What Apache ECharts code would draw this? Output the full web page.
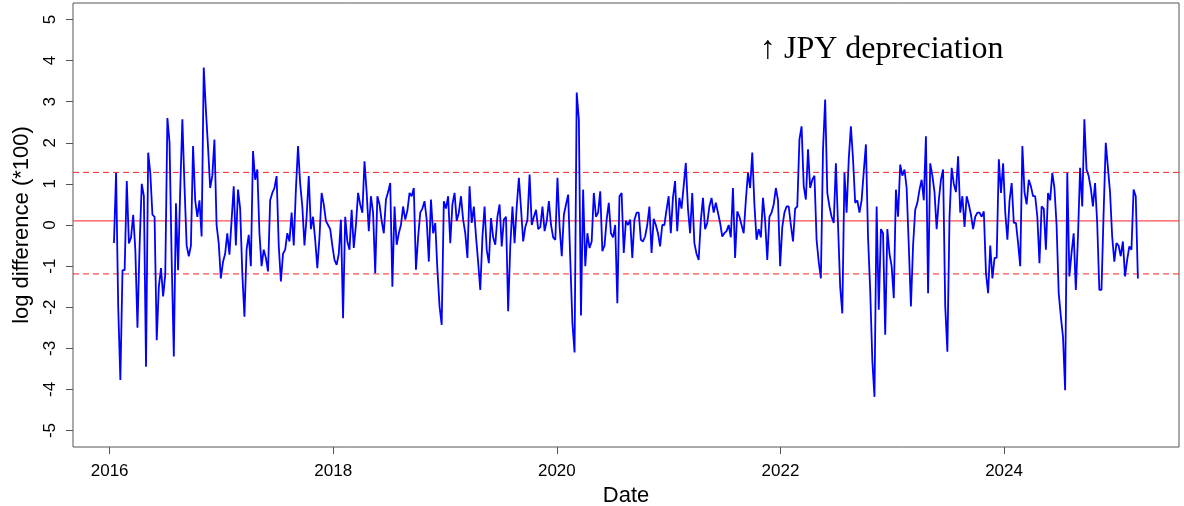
<!DOCTYPE html>
<html><head><meta charset="utf-8">
<script src="https://cdn.jsdelivr.net/npm/echarts@6/dist/echarts.min.js"></script>
<style>html,body{margin:0;padding:0;background:#fff}#c{width:1184px;height:506px}</style>
</head><body><div id="c"></div>
<script>
// ---- data ----
const startDate = '2016-01-15';   // first weekly observation
const logDiff = [
  -0.44, 1.27, -2.0, -3.77, -1.1, -1.1, 1.07, -0.45, -0.3, 0.25, -0.6, -2.5, -0.5, 1.0, 0.7, -3.45, 1.76, 1.27, 0.25, 0.2,
  -2.8, -1.5, -1.05, -1.74, -1.2, 2.6, 2.0, -0.85, -3.2, 0.53, -1.1, 0.86, 2.57, 0.94, -0.5, -0.76, -0.5, 1.92, 0.6, 0.2,
  0.6, -0.28, 3.83, 2.8, 1.9, 0.9, 1.2, 2.08, 0.0, -0.44, -1.3, -0.9, -0.7, -0.2, -0.72, 0.1, 0.94, -0.5, 0.86, 0.4,
  -1.17, -2.23, -0.6, -0.24, -1.0, 1.8, 1.1, 1.35, -0.2, -1.0, -0.6, -0.8, -1.13, 0.6, 0.78, 0.9, 1.19, -0.5, -1.37, -0.7,
  -0.6, -0.2, -0.4,
  0.3, -0.5, 0.86, 1.92, 1.0, 0.45, -0.5, 0.2, 1.19, -0.1, 0.2, -0.36, -1.05, -0.3, 0.78, 0.5, 0.1, 0.0, -0.1, -0.5,
  -0.85, -0.97, -0.7, 0.13, -2.27, 0.2, -0.4, -0.6, 0.37, -0.56, 0.0, 0.78, 0.5, 0.3, 1.55, 0.8, -0.15, 0.7, 0.3, -1.17,
  0.7, 0.5, 0.1, -0.2,
  0.62, 0.8, 1.02, -1.5, 0.45, -0.48, -0.2, 0.0, 0.45, 0.13, 0.35, 0.78, 0.7, 0.9, -1.09, -0.3, 0.3, 0.4, 0.58, 0.13,
  -0.89, 0.62, -0.2, 0.05, -1.09, -1.98, -2.43, 0.58, 0.4, 0.7, -0.44, 0.5, 0.78, 0.1, 0.3, 0.7, 0.13, -0.2, -0.8, 0.94,
  0.05, 0.45, -0.28, -0.9,
  -1.58, -0.3, 0.45, -0.6, -0.93, 0.17, -0.3, -0.48, 0.2, 0.5, -0.52, 0.13, 0.2, -2.1, -0.5, 0.45, -0.44, 0.45, 1.15, 0.4,
  -0.4, -0.05, 0.13, 1.23, 0.0, 0.2, 0.37, -0.1, -0.05, 0.45, -0.15, 0.1, 0.58, 0.0, -0.3, -0.36, 1.15, -0.05, -0.76, 0.25,
  0.5, 0.74, -0.85, -2.4,
  -3.1, 3.22, 2.57, -2.2, 0.86, -1.0, -0.2, -0.56, -0.4, 0.78, 0.2, 0.3, 0.82, -0.64, -0.5, 0.13, 0.54, -0.2, -0.3, 0.0,
  -1.9, 0.7, 0.78, -0.68, 0.1, 0.0, 0.13, -0.8, 0.13, 0.3, 0.3, -0.36, -0.4, -0.28, 0.0, 0.45, -0.68, 0.15, 0.0, -0.2,
  -0.52, 0.0, 0.0,
  0.37, 0.7, -0.2, 0.66, 1.07, -0.15, 0.66, 0.4, 0.94, 1.51, 0.4, -0.2, 0.78, -0.44, -0.7, -0.85, 0.1, 0.66, -0.1, 0.05,
  0.45, 0.66, 0.3, 0.54, 0.3, 0.05, -0.28, -0.2, -0.15, 0.0, -0.3, 0.9, -0.8, 0.33, 0.2, 0.0, -0.2, 0.6, 1.27, 0.9,
  1.76, 0.5, -0.36, -0.1,
  -0.3, 0.66, 0.1, -0.85, 0.2, 0.3, 0.5, 0.9, 0.6, -1.0, -0.05, 0.3, 0.45, 0.45, 0.0, -0.4, 0.4, 0.45, 2.08, 2.4,
  0.94, 0.62, 1.84, 0.9, 1.1, 1.2, -0.36, -0.9, -1.3, 1.84, 3.05, 0.78, 0.45, 0.2, 0.05, 1.5, 0.0, -1.5, -2.15, 1.27,
  0.3, 1.6, 2.4, 1.6,
  0.54, 0.6, 0.3, 0.6, 1.3, 1.96, -0.3, -1.58, -3.3, -4.18, 0.45, -2.06, -0.1, -0.2, -2.67, -0.1, -0.7, -1.0, -1.78, 0.86,
  0.2, 1.47, 1.2, 1.35, 0.9, -0.5, -1.98, -0.5, 0.37, 0.54, 0.86, 1.1, 0.6, 2.16, -1.66, 1.5, 1.2, 0.8, -0.1, 0.6,
  1.1, 1.35, -1.98, -3.08,
  0.2, 1.39, 1.0, 0.8, 1.67, 0.3, 0.7, -0.05, 0.7, 0.5, 0.25, -0.1, 0.2, 0.3, 0.3, 0.2, 0.33, -1.17, -1.66, -0.5,
  -1.3, -0.8, -0.8, 1.6, 0.78, 1.5, 0.3, -0.36, 0.6, 1.02, 0.05, 0.05, -0.44, -1.0, 1.92, 0.8, 0.5, 1.1, 0.94, 0.7,
  0.7, 0.2, -0.93,
  0.45, 0.4, -0.6, 0.78, 0.6, 1.27, 0.9, 0.0, -1.66, -2.23, -2.72, -4.02, 1.27, -1.25, -0.68, -0.2, -1.58, -0.3, 1.39, 0.45,
  2.57, 1.35, 1.19, 0.9, 0.45, 1.02, 0.05, -1.58, -1.58, 0.3, 2.0, 1.4, 0.8, -0.28, -0.89, -0.44, -0.5, -0.76, -0.4, -1.25,
  -0.85, -0.52, -0.6, 0.86, 0.7, -1.3
];
const xTickYears = [2016, 2018, 2020, 2022, 2024];
const yTicks = [-5, -4, -3, -2, -1, 0, 1, 2, 3, 4, 5];
const xRange = [2015.672, 2025.565];
const yRange = [-5.4, 5.4];
const meanLevel = 0.1;
const upperBand = 1.28;
const lowerBand = -1.19;
const annotationText = '\u2191 JPY depreciation';
const xTitle = 'Date';
const yTitle = 'log difference (*100)';

// ---- build ----
function decimalYear(d) {
  const y = d.getUTCFullYear();
  const a = Date.UTC(y, 0, 1), b = Date.UTC(y + 1, 0, 1);
  return y + (d.getTime() - a) / (b - a);
}
const t0 = Date.parse(startDate + 'T00:00:00Z');
const seriesData = logDiff.map((v, i) => [decimalYear(new Date(t0 + i * 7 * 86400000)), v]);
const levelLine = lv => [[xRange[0], lv], [xRange[1], lv]];

const RED = '#ff2020';
const sans = '"Liberation Sans", Arial, sans-serif';
function refSeries(level, type) {
  return {
    type: 'line', data: levelLine(level), z: 1, silent: true, showSymbol: false, symbol: 'none',
    color: RED, lineStyle: {color: RED, width: 1, type: type}
  };
}
const chart = echarts.init(document.getElementById('c'), null, {renderer: 'canvas'});
chart.setOption({
  animation: false,
  backgroundColor: '#ffffff',
  grid: {left: 73, right: 5, top: 3, bottom: 59, show: true, borderColor: '#555', borderWidth: 1,
         backgroundColor: 'transparent', containLabel: false, outerBoundsMode: 'none'},
  xAxis: {
    type: 'value', min: xRange[0], max: xRange[1],
    name: xTitle, nameLocation: 'middle', nameGap: 35,
    nameTextStyle: {fontSize: 22, color: '#000', fontFamily: sans},
    axisLine: {show: false, onZero: false},
    splitLine: {show: false},
    axisTick: {show: true, customValues: xTickYears, length: 7, lineStyle: {color: '#555', width: 1}},
    axisLabel: {customValues: xTickYears, formatter: v => String(Math.round(v)), fontSize: 17, color: '#000', margin: 16, fontFamily: sans}
  },
  yAxis: {
    type: 'value', min: yRange[0], max: yRange[1],
    name: yTitle, nameLocation: 'middle', nameRotate: 90, nameGap: 40,
    nameTextStyle: {fontSize: 22, color: '#000', fontFamily: sans},
    axisLine: {show: false, onZero: false},
    splitLine: {show: false},
    axisTick: {show: true, customValues: yTicks, length: 7, lineStyle: {color: '#555', width: 1}},
    axisLabel: {customValues: yTicks, rotate: 90, formatter: v => String(Math.round(v)), fontSize: 17, color: '#000', margin: 14, fontFamily: sans}
  },
  graphic: [{
    type: 'text', left: 760, top: 34,
    style: {text: annotationText, font: '32px "Liberation Serif", "Times New Roman", serif', fill: '#000'}
  }],
  series: [
    refSeries(meanLevel, 'solid'),
    refSeries(upperBand, [6, 4]),
    refSeries(lowerBand, [6, 4]),
    {
      type: 'line', data: seriesData, z: 2, showSymbol: false, symbol: 'none', silent: true,
      color: '#0000ff', lineStyle: {color: '#0000ff', width: 1.8}
    }
  ]
});
</script>
</body></html>
